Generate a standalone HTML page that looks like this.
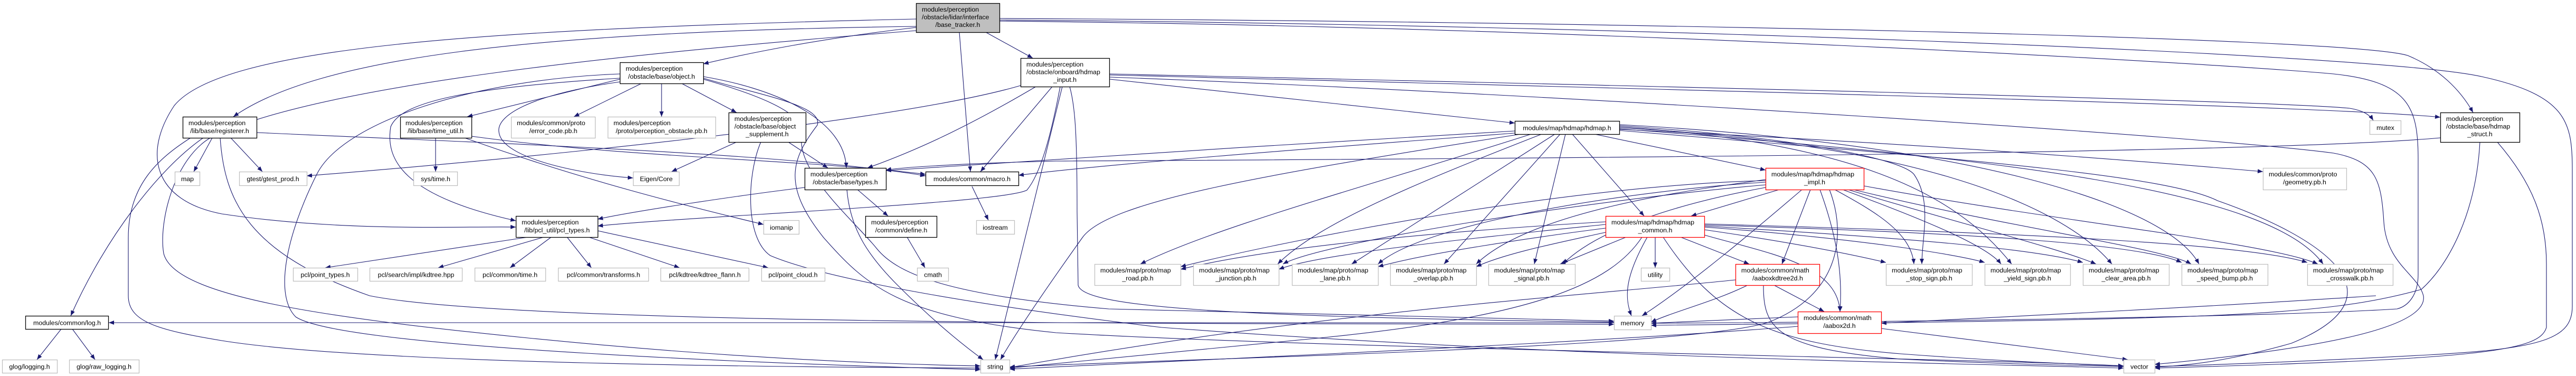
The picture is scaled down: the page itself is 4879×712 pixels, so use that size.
<!DOCTYPE html>
<html><head><meta charset="utf-8"><style>
html,body{margin:0;padding:0;background:#fff;}
svg{display:block;}
text{font-family:"Liberation Sans",Arial,sans-serif;font-size:12.4px;fill:#000;}
.n{fill:#fff;stroke:#000;stroke-width:1.3}
.l{fill:#fff;stroke:#bfbfbf;stroke-width:1.3}
.r{fill:#fff;stroke:#ff0000;stroke-width:1.3}
.g{fill:#bfbfbf;stroke:#000;stroke-width:1.3}
path.e{fill:none;stroke:#191970;stroke-width:1.1;marker-end:url(#a)}
</style></head><body>
<svg width="4879" height="712" viewBox="0 0 4879 712" xmlns="http://www.w3.org/2000/svg">
<defs><marker id="a" markerWidth="10" markerHeight="8" refX="10" refY="4" orient="auto" markerUnits="userSpaceOnUse"><path d="M0,0 L10,4 L0,8 z" fill="#191970"/></marker></defs>

<!-- edges -->
<g>
<!-- base_tracker -->
<path class="e" d="M1735,50 C1000,60 600,110 442,221"/>
<path class="e" d="M1735,36 C900,55 420,90 330,200 C270,290 290,380 420,405 C650,440 880,428 977,430"/>
<path class="e" d="M1735,52 C1560,72 1420,100 1332,121"/>
<path class="e" d="M1867,61 L1956,110"/>
<path class="e" d="M1817,61 L1838,325"/>
<path class="e" d="M1893,35 C3000,40 4450,70 4560,105 C4620,130 4660,170 4684,213"/>
<path class="e" d="M1893,38 C3000,45 4500,100 4700,145 C4860,180 4872,230 4872,320 L4872,580 C4872,640 4820,660 4600,672 C4300,688 4150,692 4081,694"/>
<path class="e" d="M1893,40 C3000,50 4200,120 4420,140 C4560,155 4580,200 4580,300 L4580,520 C4580,560 4560,580 4540,585 C4300,600 3600,610 3127,612"/>
<path class="e" d="M1735,58 C1200,100 600,160 400,260 C330,300 300,420 310,480 C330,560 600,600 1000,640 C1400,680 1700,690 1857,693"/>
<!-- hdmap_input -->
<path class="e" d="M1962,164 C1850,230 1750,280 1643,318"/>
<path class="e" d="M1993,164 L1857,325"/>
<path class="e" d="M2012,164 L1885,681"/>
<path class="e" d="M2008,164 C1990,260 1970,330 1945,360 C1900,385 1300,410 1132,428"/>
<path class="e" d="M1933,162 C1700,230 1000,300 581,333"/>
<path class="e" d="M2026,164 C2036,200 2040,250 2040,400 L2042,540 C2050,580 2300,600 3057,610"/>
<path class="e" d="M2102,150 L2869,233"/>
<path class="e" d="M2102,140 C3000,160 4300,190 4450,205 C4480,210 4490,220 4495,228"/>
<path class="e" d="M2102,142 C3200,170 4400,200 4622,222"/>
<path class="e" d="M2102,146 C3000,180 4200,260 4420,290 C4500,305 4510,340 4515,420 C4520,500 4580,520 4590,560 C4600,620 4400,660 4081,690"/>
<!-- registerer -->
<path class="e" d="M402,261 L367,325"/>
<path class="e" d="M437,261 L497,325"/>
<path class="e" d="M385,261 C300,320 200,450 134,598"/>
<path class="e" d="M361,261 C300,300 243,350 243,450 L243,560 C243,610 300,625 420,645 C700,690 1500,695 1857,697"/>
<path class="e" d="M417,261 C425,380 470,480 700,560 C1000,620 2500,612 3057,614"/>
<path class="e" d="M486,251 C900,270 1500,290 1753,333"/>
<!-- time_util -->
<path class="e" d="M825,261 L825,325"/>
<path class="e" d="M880,261 C1100,340 1300,390 1446,425"/>
<path class="e" d="M893,258 C1200,300 1500,300 1753,330"/>
<!-- object -->
<path class="e" d="M1215,158 L1087,221"/>
<path class="e" d="M1253,158 L1253,221"/>
<path class="e" d="M1291,158 L1395,213"/>
<path class="e" d="M1332,145 C1480,170 1600,230 1603,318"/>
<path class="e" d="M1174,150 C1050,180 950,205 885,221"/>
<path class="e" d="M1174,155 C1000,180 940,220 945,250 C950,300 1100,330 1199,337"/>
<path class="e" d="M1174,148 C900,165 760,190 740,240 C730,300 760,370 977,418"/>
<path class="e" d="M1174,140 C900,150 650,230 600,330 C540,450 520,560 560,600 C650,660 1500,690 1857,700"/>
<path class="e" d="M1332,148 C1440,180 1560,200 1548,237 C1500,300 1480,350 1560,450 C1640,540 1700,600 2000,630 C2500,660 3800,680 4022,693"/>
<path class="e" d="M1332,150 C1420,175 1520,210 1520,250 C1500,320 1620,420 1660,470 C1700,520 1800,560 2100,585 C2600,600 2900,605 3057,608"/>
<!-- supplement -->
<path class="e" d="M1395,269 L1272,325"/>
<path class="e" d="M1493,269 L1568,318"/>
<path class="e" d="M1441,269 C1415,330 1410,450 1459,484 C1520,510 1700,560 2200,620 C3000,680 3800,690 4022,697"/>
<!-- types -->
<path class="e" d="M1524,355 C1400,370 1200,400 1132,415"/>
<path class="e" d="M1624,359 L1682,409"/>
<path class="e" d="M1604,359 C1610,430 1640,480 1700,540 C1780,620 1840,665 1862,681"/>
<!-- hdmap -->
<path class="e" d="M2869,248 C2500,270 2000,300 1678,323"/>
<path class="e" d="M2869,252 C2500,280 2100,310 1929,332"/>
<path class="e" d="M2900,254 C2600,350 2300,430 2160,500"/>
<path class="e" d="M2920,254 C2700,340 2500,420 2420,500"/>
<path class="e" d="M2945,254 L2560,500"/>
<path class="e" d="M2955,254 L2735,500"/>
<path class="e" d="M2965,254 L2906,500"/>
<path class="e" d="M2978,254 L3114,409"/>
<path class="e" d="M3020,254 L3344,322"/>
<path class="e" d="M2880,254 C2400,330 2100,380 2050,450 C2000,520 1930,620 1895,681"/>
<path class="e" d="M3067,245 C3600,270 4000,300 4286,325"/>
<path class="e" d="M3067,238 C3400,260 3600,300 3625,330 C3660,380 3640,450 3640,500"/>
<path class="e" d="M3067,240 C3500,270 3700,360 3810,500"/>
<path class="e" d="M3067,242 C3600,270 3900,380 4000,500"/>
<path class="e" d="M3067,236 C3700,270 4100,380 4165,500"/>
<path class="e" d="M3067,244 C3800,300 4300,360 4400,500"/>
<path class="e" d="M3067,247 C3700,300 4100,330 4200,380 C4400,450 4560,560 4340,650 C4200,690 4120,693 4081,695"/>
<!-- hdmap_impl -->
<path class="e" d="M3370,359 L3203,409"/>
<path class="e" d="M3429,359 L3375,500"/>
<path class="e" d="M3447,359 C3480,450 3490,520 3485,590"/>
<path class="e" d="M3413,359 C3330,430 3200,540 3110,598"/>
<path class="e" d="M3465,359 C3500,450 3480,560 3350,610 C3200,660 2200,680 1912,695"/>
<path class="e" d="M3475,359 C3550,400 3620,440 3625,500"/>
<path class="e" d="M3490,359 C3600,400 3760,460 3790,500"/>
<path class="e" d="M3500,359 C3700,420 3900,470 3970,500"/>
<path class="e" d="M3510,359 C3800,430 4100,470 4150,500"/>
<path class="e" d="M3530,352 C3900,420 4300,460 4390,500"/>
<path class="e" d="M3344,350 C3000,380 2500,460 2430,500"/>
<path class="e" d="M3344,345 C3100,360 2700,420 2610,500"/>
<path class="e" d="M3344,340 C3200,360 2900,400 2796,500"/>
<path class="e" d="M3344,355 C3100,400 3000,460 2960,500"/>
<path class="e" d="M3344,342 C3000,350 2500,440 2236,505"/>
<!-- hdmap_common -->
<path class="e" d="M3041,420 C2700,440 2400,470 2236,510"/>
<path class="e" d="M3041,425 C2800,450 2500,480 2422,510"/>
<path class="e" d="M3041,432 C2900,450 2700,480 2610,505"/>
<path class="e" d="M3041,440 C2950,460 2850,480 2796,505"/>
<path class="e" d="M3080,449 L2955,500"/>
<path class="e" d="M3135,449 L3135,507"/>
<path class="e" d="M3120,449 C3080,520 3075,560 3090,598"/>
<path class="e" d="M3183,449 L3313,500"/>
<path class="e" d="M3150,449 C3250,600 3350,650 3600,670 C3800,685 3950,690 4022,693"/>
<path class="e" d="M3110,449 C3050,540 2900,600 2500,640 C2200,670 2000,690 1912,697"/>
<path class="e" d="M3228,445 C3350,480 3480,500 3485,590"/>
<path class="e" d="M3228,435 C3400,460 3500,480 3572,497"/>
<path class="e" d="M3228,430 C3500,450 3700,480 3759,497"/>
<path class="e" d="M3228,428 C3600,450 3850,470 3945,497"/>
<path class="e" d="M3228,426 C3700,440 4050,460 4132,497"/>
<path class="e" d="M3228,424 C3800,440 4250,460 4370,497"/>
<!-- kdtree/aabox -->
<path class="e" d="M3360,540 L3455,590"/>
<path class="e" d="M3310,540 C3250,570 3170,590 3127,610"/>
<path class="e" d="M3340,540 C3340,620 3360,660 3600,680 C3800,690 3950,692 4022,694"/>
<path class="e" d="M3287,530 C3000,560 2500,590 1912,696"/>
<path class="e" d="M3563,622 L4030,681"/>
<path class="e" d="M3405,618 C3000,650 2300,680 1912,699"/>
<path class="e" d="M4500,560 C4200,580 3800,600 3563,612"/>
<path class="e" d="M3405,600 C3300,605 3200,608 3127,612"/>
<!-- hdmap_struct -->
<path class="e" d="M4622,261 C4300,290 3000,300 2000,305 C1800,310 1700,318 1678,322"/>
<path class="e" d="M4697,269 C4690,400 4640,500 4586,548 C4400,600 4200,605 3127,616"/>
<path class="e" d="M4730,269 C4800,350 4823,420 4823,500 L4823,620 C4810,665 4700,680 4081,697"/>
<!-- pcl_types -->
<path class="e" d="M1000,449 L616,507"/>
<path class="e" d="M1030,449 L830,507"/>
<path class="e" d="M1044,449 L966,507"/>
<path class="e" d="M1074,449 L1120,507"/>
<path class="e" d="M1115,449 L1287,507"/>
<path class="e" d="M1132,437 L1455,507"/>
<!-- misc -->
<path class="e" d="M1841,353 L1872,417"/>
<path class="e" d="M1718,449 L1752,507"/>
<path class="e" d="M116,623 L70,681"/>
<path class="e" d="M137,623 L180,681"/>
<path class="e" d="M3100,611 C2000,605 1000,605 206,611"/>
</g>

<!-- nodes -->
<g>
<rect class="g" x="1735.5" y="6.5" width="158" height="55"/>
<text x="1746" y="22">modules/perception</text><text x="1746" y="36.5">/obstacle/lidar/interface</text><text x="1814" y="51" text-anchor="middle">/base_tracker.h</text>

<rect class="n" x="1933.5" y="110.5" width="168" height="54"/>
<text x="1944" y="126">modules/perception</text><text x="1944" y="140.5">/obstacle/onboard/hdmap</text><text x="2017" y="155" text-anchor="middle">_input.h</text>

<rect class="n" x="1174.5" y="118.5" width="158" height="40"/>
<text x="1185" y="134">modules/perception</text><text x="1253" y="149" text-anchor="middle">/obstacle/base/object.h</text>

<rect class="n" x="346.5" y="221.5" width="140" height="40"/>
<text x="357" y="237">modules/perception</text><text x="416" y="252" text-anchor="middle">/lib/base/registerer.h</text>

<rect class="n" x="758.5" y="221.5" width="135" height="40"/>
<text x="768" y="237">modules/perception</text><text x="825" y="252" text-anchor="middle">/lib/base/time_util.h</text>

<rect class="l" x="968.5" y="221.5" width="159" height="40"/>
<text x="979" y="237">modules/common/proto</text><text x="1048" y="252" text-anchor="middle">/error_code.pb.h</text>

<rect class="l" x="1151.5" y="221.5" width="204" height="40"/>
<text x="1162" y="237">modules/perception</text><text x="1253" y="252" text-anchor="middle">/proto/perception_obstacle.pb.h</text>

<rect class="n" x="1380.5" y="213.5" width="146" height="56"/>
<text x="1391" y="229">modules/perception</text><text x="1391" y="243.5">/obstacle/base/object</text><text x="1453" y="258" text-anchor="middle">_supplement.h</text>

<rect class="n" x="2869.5" y="229.5" width="198" height="25"/>
<text x="2968" y="246.5" text-anchor="middle">modules/map/hdmap/hdmap.h</text>

<rect class="l" x="4488.5" y="228.5" width="59" height="26"/>
<text x="4518" y="246" text-anchor="middle">mutex</text>

<rect class="n" x="4622.5" y="213.5" width="150" height="56"/>
<text x="4633" y="229">modules/perception</text><text x="4633" y="243.5">/obstacle/base/hdmap</text><text x="4697" y="258" text-anchor="middle">_struct.h</text>

<rect class="l" x="331.5" y="325.5" width="47" height="26"/><text x="355" y="343" text-anchor="middle">map</text>
<rect class="l" x="453.5" y="325.5" width="128" height="26"/><text x="517" y="343" text-anchor="middle">gtest/gtest_prod.h</text>
<rect class="l" x="783.5" y="325.5" width="83" height="26"/><text x="825" y="343" text-anchor="middle">sys/time.h</text>
<rect class="l" x="1199.5" y="325.5" width="87" height="26"/><text x="1243" y="343" text-anchor="middle">Eigen/Core</text>

<rect class="n" x="1524.5" y="318.5" width="154" height="41"/>
<text x="1535" y="334">modules/perception</text><text x="1601" y="349" text-anchor="middle">/obstacle/base/types.h</text>

<rect class="n" x="1753.5" y="325.5" width="176" height="26"/><text x="1841" y="343" text-anchor="middle">modules/common/macro.h</text>

<rect class="r" x="3344.5" y="318.5" width="186" height="41"/>
<text x="3355" y="334">modules/map/hdmap/hdmap</text><text x="3437" y="349" text-anchor="middle">_impl.h</text>

<rect class="l" x="4286.5" y="318.5" width="158" height="41"/>
<text x="4297" y="334">modules/common/proto</text><text x="4365" y="349" text-anchor="middle">/geometry.pb.h</text>

<rect class="n" x="977.5" y="409.5" width="155" height="40"/>
<text x="988" y="425">modules/perception</text><text x="1055" y="440" text-anchor="middle">/lib/pcl_util/pcl_types.h</text>

<rect class="l" x="1446.5" y="417.5" width="67" height="26"/><text x="1480" y="435" text-anchor="middle">iomanip</text>

<rect class="n" x="1639.5" y="409.5" width="135" height="40"/>
<text x="1650" y="425">modules/perception</text><text x="1707" y="440" text-anchor="middle">/common/define.h</text>

<rect class="l" x="1849.5" y="417.5" width="72" height="26"/><text x="1885" y="435" text-anchor="middle">iostream</text>

<rect class="r" x="3041.5" y="409.5" width="187" height="40"/>
<text x="3052" y="425">modules/map/hdmap/hdmap</text><text x="3135" y="440" text-anchor="middle">_common.h</text>

<rect class="l" x="555.5" y="507.5" width="122" height="25"/><text x="616" y="524.5" text-anchor="middle">pcl/point_types.h</text>
<rect class="l" x="700.5" y="507.5" width="175" height="25"/><text x="788" y="524.5" text-anchor="middle">pcl/search/impl/kdtree.hpp</text>
<rect class="l" x="899.5" y="507.5" width="134" height="25"/><text x="966" y="524.5" text-anchor="middle">pcl/common/time.h</text>
<rect class="l" x="1057.5" y="507.5" width="171" height="25"/><text x="1143" y="524.5" text-anchor="middle">pcl/common/transforms.h</text>
<rect class="l" x="1251.5" y="507.5" width="167" height="25"/><text x="1335" y="524.5" text-anchor="middle">pcl/kdtree/kdtree_flann.h</text>
<rect class="l" x="1442.5" y="507.5" width="120" height="25"/><text x="1502" y="524.5" text-anchor="middle">pcl/point_cloud.h</text>
<rect class="l" x="1737.5" y="507.5" width="59" height="25"/><text x="1767" y="524.5" text-anchor="middle">cmath</text>
<rect class="l" x="3108.5" y="507.5" width="54" height="25"/><text x="3135" y="524.5" text-anchor="middle">utility</text>

<rect class="l" x="2073.5" y="500.5" width="163" height="40"/><text x="2084" y="516">modules/map/proto/map</text><text x="2155" y="531" text-anchor="middle">_road.pb.h</text>
<rect class="l" x="2260.5" y="500.5" width="162" height="40"/><text x="2271" y="516">modules/map/proto/map</text><text x="2341" y="531" text-anchor="middle">_junction.pb.h</text>
<rect class="l" x="2447.5" y="500.5" width="163" height="40"/><text x="2458" y="516">modules/map/proto/map</text><text x="2529" y="531" text-anchor="middle">_lane.pb.h</text>
<rect class="l" x="2633.5" y="500.5" width="163" height="40"/><text x="2644" y="516">modules/map/proto/map</text><text x="2715" y="531" text-anchor="middle">_overlap.pb.h</text>
<rect class="l" x="2819.5" y="500.5" width="164" height="40"/><text x="2830" y="516">modules/map/proto/map</text><text x="2901" y="531" text-anchor="middle">_signal.pb.h</text>
<rect class="r" x="3287.5" y="500.5" width="159" height="40"/><text x="3298" y="516">modules/common/math</text><text x="3367" y="531" text-anchor="middle">/aaboxkdtree2d.h</text>
<rect class="l" x="3572.5" y="500.5" width="163" height="40"/><text x="3583" y="516">modules/map/proto/map</text><text x="3654" y="531" text-anchor="middle">_stop_sign.pb.h</text>
<rect class="l" x="3759.5" y="500.5" width="162" height="40"/><text x="3770" y="516">modules/map/proto/map</text><text x="3840" y="531" text-anchor="middle">_yield_sign.pb.h</text>
<rect class="l" x="3945.5" y="500.5" width="163" height="40"/><text x="3956" y="516">modules/map/proto/map</text><text x="4027" y="531" text-anchor="middle">_clear_area.pb.h</text>
<rect class="l" x="4132.5" y="500.5" width="163" height="40"/><text x="4143" y="516">modules/map/proto/map</text><text x="4214" y="531" text-anchor="middle">_speed_bump.pb.h</text>
<rect class="l" x="4370.5" y="500.5" width="162" height="40"/><text x="4381" y="516">modules/map/proto/map</text><text x="4451" y="531" text-anchor="middle">_crosswalk.pb.h</text>

<rect class="n" x="48.5" y="598.5" width="157" height="25"/><text x="127" y="615.5" text-anchor="middle">modules/common/log.h</text>
<rect class="l" x="3057.5" y="598.5" width="70" height="26"/><text x="3092" y="616" text-anchor="middle">memory</text>
<rect class="r" x="3405.5" y="590.5" width="158" height="41"/><text x="3416" y="606">modules/common/math</text><text x="3484" y="621" text-anchor="middle">/aabox2d.h</text>

<rect class="l" x="4.5" y="681.5" width="104" height="25"/><text x="56" y="698.5" text-anchor="middle">glog/logging.h</text>
<rect class="l" x="131.5" y="681.5" width="132" height="25"/><text x="197" y="698.5" text-anchor="middle">glog/raw_logging.h</text>
<rect class="l" x="1857.5" y="681.5" width="55" height="25"/><text x="1885" y="698.5" text-anchor="middle">string</text>
<rect class="l" x="4022.5" y="681.5" width="59" height="25"/><text x="4052" y="698.5" text-anchor="middle">vector</text>
</g>
</svg>
</body></html>
